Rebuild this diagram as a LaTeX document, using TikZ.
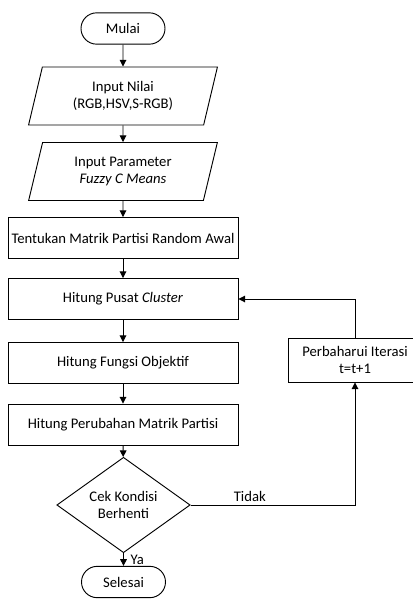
\documentclass[tikz,border=0pt]{standalone}
\usepackage{fontspec}
\setmainfont{Carlito}
\usetikzlibrary{shapes.geometric,shapes.misc,arrows.meta}
\begin{document}
\begin{tikzpicture}[x=0.75pt,y=-0.75pt,
  font=\fontsize{11}{12.8}\selectfont,
  terminal/.style={draw, rounded rectangle, line width=0.7pt, minimum width=65pt, minimum height=23.5pt, inner sep=1pt},
  iobox/.style={draw, trapezium, trapezium left angle=74.6, trapezium right angle=105.4, trapezium stretches=true, line width=0.7pt, minimum width=142.5pt, minimum height=43.5pt, inner sep=1pt, align=center},
  procbox/.style={draw, rectangle, line width=0.7pt, minimum width=172.5pt, minimum height=30.75pt, inner sep=1pt, align=center},
  decision/.style={draw, diamond, line width=0.7pt, minimum width=100pt, minimum height=60pt, inner sep=0pt, align=center},
  lbl/.style={inner sep=2pt},
  flow/.style={line width=0.7pt, -{Triangle[length=5pt,width=5pt]}}]
\useasboundingbox (0,0) rectangle (413,600);
\node[terminal] (mulai) at (123,28.5){Mulai};
\node[iobox] (inp1) at (123,96){Input Nilai\\(RGB,HSV,S-RGB)};
\node[iobox] (inp2) at (123,171.5){Input Parameter\\\textit{Fuzzy C Means}};
\node[procbox] (init) at (123,238){Tentukan Matrik Partisi Random Awal};
\node[procbox] (pusat) at (123,299){Hitung Pusat \textit{Cluster}};
\node[procbox] (fungsi) at (123,363){Hitung Fungsi Objektif};
\node[procbox] (ubah) at (123,424.5){Hitung Perubahan Matrik Partisi};
\node[decision] (cek) at (123.5,505){Cek Kondisi\\Berhenti};
\node[terminal] (selesai) at (123.5,582){Selesai};
\node[procbox, minimum width=100.5pt, minimum height=33pt] (iter) at (355,360){Perbaharui Iterasi\\t=t+1};
\draw[flow](mulai) -- (inp1);
\draw[flow](inp1) -- (inp2);
\draw[flow](inp2) -- (init);
\draw[flow](init) -- (pusat);
\draw[flow](pusat) -- (fungsi);
\draw[flow](fungsi) -- (ubah);
\draw[flow](ubah) -- (cek);
\draw[flow](cek) -- node[lbl, right, xshift=3pt]{Ya} (selesai);
\draw[flow](cek.east) -| node[lbl, above, pos=0.18]{Tidak} (iter);
\draw[flow](iter) |- (pusat);
\end{tikzpicture}
\end{document}
